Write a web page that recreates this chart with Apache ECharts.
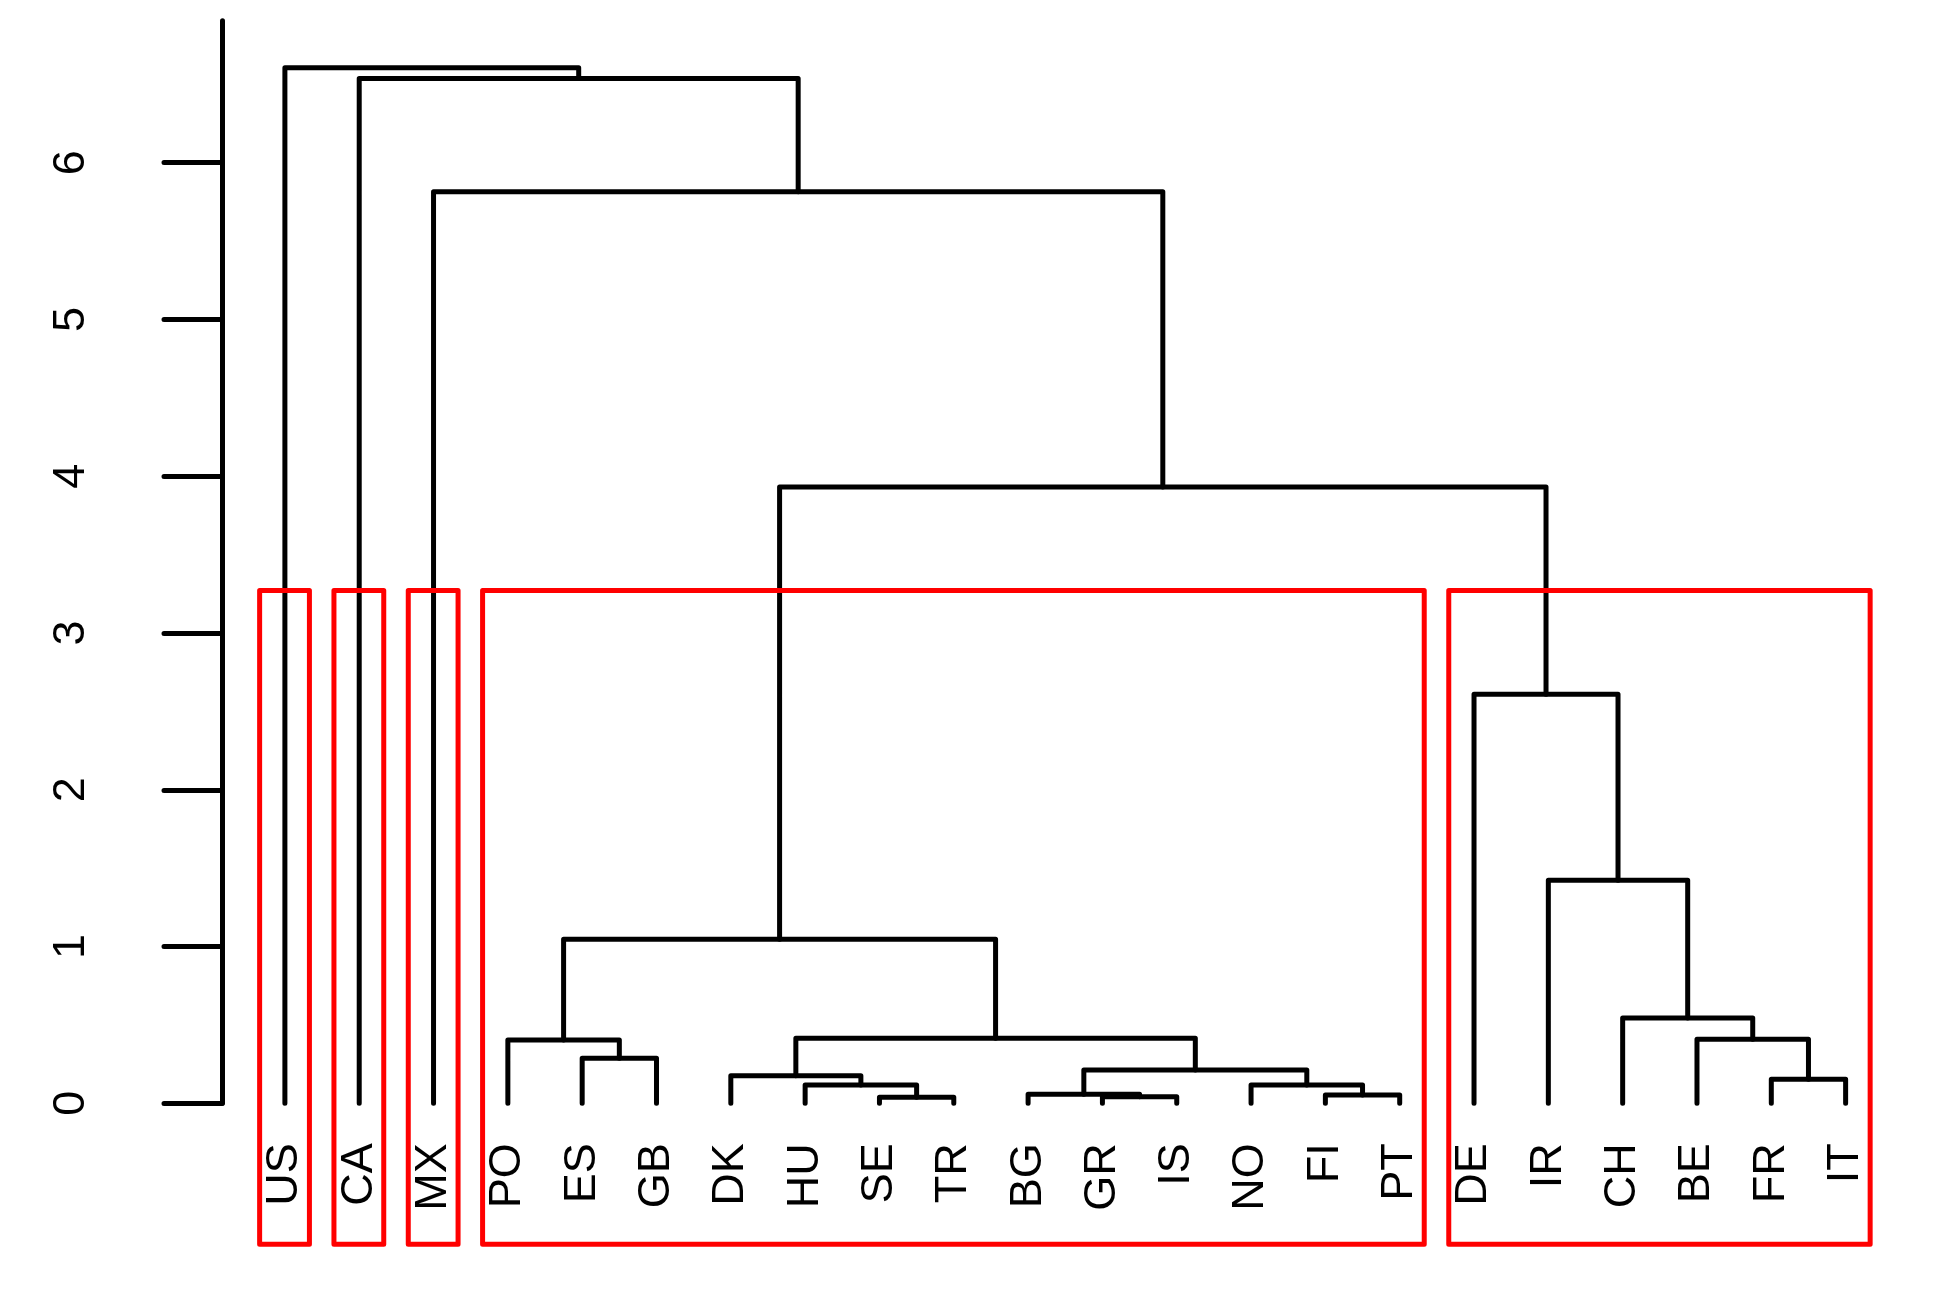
<!DOCTYPE html>
<html>
<head>
<meta charset="utf-8">
<script src="https://cdn.jsdelivr.net/npm/echarts@6/dist/echarts.min.js"></script>
<style>
html,body{margin:0;padding:0;background:#fff;}
#chart{width:1951px;height:1291px;}
</style>
</head>
<body>
<div id="chart"></div>
<script>
// ---- data ----
// leaf labels in dendrogram order
var leaves = ['US','CA','MX','PO','ES','GB','DK','HU','SE','TR','BG','GR','IS','NO','FI','PT','DE','IR','CH','BE','FR','IT'];
// merge table (R hclust style): negative = leaf index (1-based), positive = earlier merge step
var mergeLeft  = [-9, -12, -15, -11, -8, -14, -21, -7, 4, -5, -4, -20, 8, -19, 11, -18, -17, 15, -3, -2, -1];
var mergeRight = [-10, -13, -16, 2, 1, 3, -22, 5, 6, -6, 10, 7, 9, 12, 13, 14, 16, 17, 18, 19, 20];
var mergeHeight = [0.038, 0.042, 0.053, 0.057, 0.117, 0.117, 0.153, 0.176, 0.212, 0.287, 0.404, 0.409, 0.415, 0.544, 1.046, 1.423, 2.610, 3.932, 5.815, 6.538, 6.606];
// cluster boxes (k = 5): first and last leaf position of each cluster
var clusterFirst = [1, 2, 3, 4, 17];
var clusterLast  = [1, 2, 3, 16, 22];
var boxBottom = -0.899;
var yTicks = [0, 1, 2, 3, 4, 5, 6];

// ---- build dendrogram segments ----
var nodeX = [], nodeH = [];
function childPos(c) {
  if (c < 0) return [-c, 0];
  return [nodeX[c - 1], nodeH[c - 1]];
}
var segData = [];
for (var i = 0; i < mergeLeft.length; i++) {
  var l = childPos(mergeLeft[i]), r = childPos(mergeRight[i]);
  nodeX.push((l[0] + r[0]) / 2);
  nodeH.push(mergeHeight[i]);
  segData.push([l[0], l[1], r[0], r[1], mergeHeight[i]]);
}
var n = mergeHeight.length, k = clusterFirst.length;
var sortedH = mergeHeight.slice().sort(function(a,b){return a-b;});
var boxTop = (sortedH[n - k] + sortedH[n - k + 1]) / 2;
var boxData = [];
for (var j = 0; j < k; j++) {
  boxData.push([clusterFirst[j] - 0.34, clusterLast[j] + 0.33, boxBottom, boxTop]);
}
var leafPos = leaves.map(function(_, i){ return i + 1; });

var FONT = "'Liberation Sans', Arial, sans-serif";
var LW = 5;
var chart = echarts.init(document.getElementById('chart'), null, {renderer: 'canvas'});
chart.setOption({
  backgroundColor: '#ffffff',
  animation: false,
  grid: {left: 222, right: 42.5, top: 20.7, bottom: 187.7, containLabel: false},
  xAxis: {
    type: 'value', min: 0.1537, max: 22.846,
    axisLine: {show: false}, axisTick: {show: false}, splitLine: {show: false},
    axisLabel: {
      customValues: leafPos,
      rotate: 90, margin: 40,
      fontFamily: FONT, fontSize: 45, color: '#000',
      formatter: function(v){ return leaves[Math.round(v) - 1] || ''; }
    }
  },
  yAxis: {
    type: 'value', min: 0, max: 6.906,
    splitLine: {show: false},
    axisLine: {show: true, lineStyle: {color: '#000', width: LW, cap: 'round'}},
    axisTick: {show: true, customValues: yTicks, length: 58, lineStyle: {color: '#000', width: LW, cap: 'round'}},
    axisLabel: {
      customValues: yTicks, rotate: 90, margin: 128,
      fontFamily: FONT, fontSize: 45, color: '#000'
    }
  },
  series: [
    {
      type: 'custom', clip: false, silent: true,
      data: segData,
      encode: {x: [0, 2], y: [1, 3, 4]},
      renderItem: function(params, api) {
        var p1 = api.coord([api.value(0), api.value(1)]);
        var p2 = api.coord([api.value(0), api.value(4)]);
        var p3 = api.coord([api.value(2), api.value(4)]);
        var p4 = api.coord([api.value(2), api.value(3)]);
        return {
          type: 'polyline',
          shape: {points: [p1, p2, p3, p4]},
          style: {stroke: '#000', lineWidth: LW, fill: null, lineCap: 'round', lineJoin: 'round'}
        };
      }
    },
    {
      type: 'custom', clip: false, silent: true,
      data: boxData,
      encode: {x: [0, 1], y: [2, 3]},
      renderItem: function(params, api) {
        var a = api.coord([api.value(0), api.value(3)]);
        var b = api.coord([api.value(1), api.value(2)]);
        return {
          type: 'rect',
          shape: {x: a[0], y: a[1], width: b[0] - a[0], height: b[1] - a[1]},
          style: {stroke: '#ff0000', lineWidth: LW, fill: null, lineJoin: 'round'}
        };
      }
    }
  ]
});
</script>
</body>
</html>
